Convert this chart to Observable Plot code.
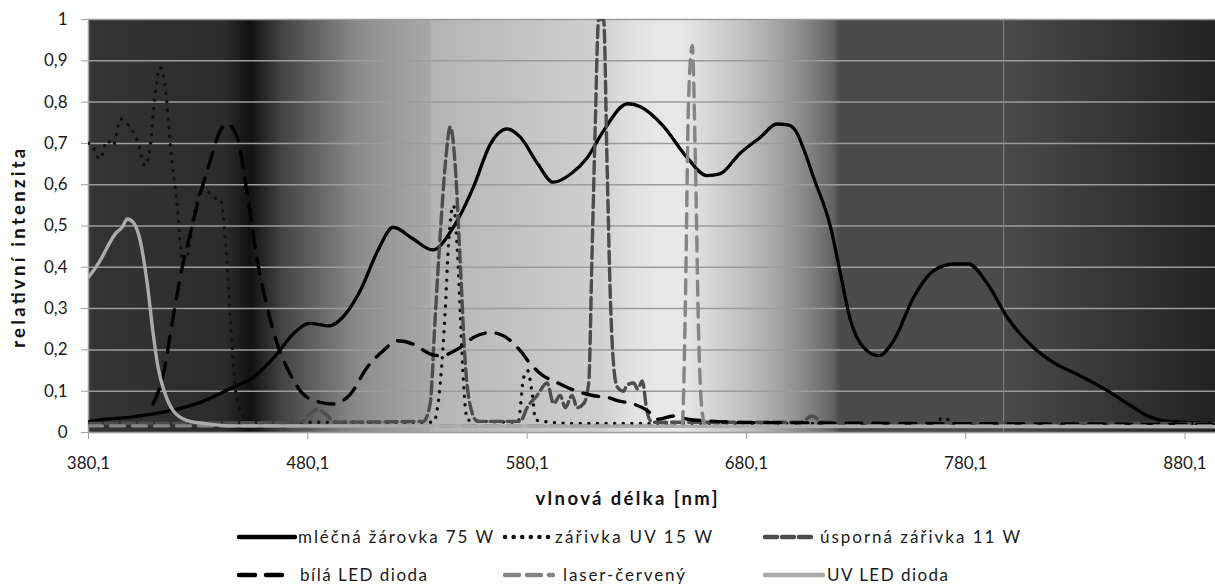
<!DOCTYPE html>
<html>
<head>
<meta charset="utf-8">
<script src="https://cdn.jsdelivr.net/npm/d3@7"></script>
<script src="https://cdn.jsdelivr.net/npm/@observablehq/plot@0.6"></script>
<style>
  html, body { margin: 0; padding: 0; background: #fff; }
  #wrap { width: 1215px; height: 585px; position: relative; font-family: Lato, "Open Sans", sans-serif; color: #1a1a1a; }
  #legend { position: relative; width: 1215px; height: 85px; font-size: 17px; }
  #legend .sw { position: absolute; }
  #legend .tx { position: absolute; white-space: nowrap; line-height: 20px; }
</style>
</head>
<body>
<div id="wrap"><div id="chart"></div><div id="legend"></div></div>
<script>
// ---------- data ----------
const wavelengthTicks = [380.1, 480.1, 580.1, 680.1, 780.1, 880.1];
const intensityTicks = [0, 0.1, 0.2, 0.3, 0.4, 0.5, 0.6, 0.7, 0.8, 0.9, 1];
const seriesNames = ["mléčná žárovka 75 W", "zářivka UV 15 W", "úsporná zářivka 11 W", "bílá LED dioda", "laser-červený", "UV LED dioda"];
const xTitle = "vlnová délka [nm]";
const yTitle = "relativní intenzita";

const mlecnaZarovka = [[380.1,0.025],[381,0.027],[400.5,0.038],[416,0.051],[431,0.073],[446,0.109],[455,0.133],[466,0.19],[473.5,0.239],[481,0.264],[490,0.258],[496,0.279],[504,0.343],[512,0.44],[519,0.497],[528,0.469],[537,0.442],[546.5,0.497],[555.6,0.594],[563.4,0.699],[571,0.735],[577,0.715],[585,0.65],[592,0.606],[600,0.626],[607.6,0.666],[615,0.731],[626,0.796],[632,0.788],[642,0.743],[653,0.666],[662,0.622],[668,0.626],[677,0.675],[686.5,0.715],[694,0.747],[699,0.745],[702.5,0.731],[707,0.675],[710.7,0.618],[718.5,0.497],[723,0.384],[727.6,0.271],[733.5,0.206],[740.4,0.186],[747.2,0.222],[756.3,0.327],[765.5,0.392],[774.6,0.408],[781.4,0.408],[790,0.36],[799,0.279],[811,0.206],[820,0.17],[832.5,0.137],[844.8,0.101],[855.3,0.065],[863,0.04],[872,0.027],[883,0.024],[894,0.022]];

const zarivkaUV = [[380.1,0.70],[381,0.699],[385.4,0.662],[388.6,0.707],[391.4,0.695],[394.6,0.759],[397.8,0.747],[402.3,0.707],[406,0.646],[408.2,0.691],[410.5,0.82],[412.8,0.884],[415.1,0.836],[417.4,0.699],[420.6,0.545],[422.8,0.424],[425.1,0.43],[427.9,0.521],[432.4,0.594],[437,0.569],[440.2,0.565],[443.4,0.4],[445.7,0.198],[447.9,0.077],[452.5,0.032],[462,0.025],[537.4,0.025],[540.5,0.12],[542.8,0.3],[544.2,0.45],[546.5,0.55],[548.3,0.44],[549.7,0.28],[551.1,0.12],[552.9,0.03],[576,0.025],[578.4,0.13],[580.3,0.15],[582.5,0.09],[584,0.03],[600,0.022],[765,0.022],[770,0.036],[775,0.022],[894,0.022]];

const usporna = [[380.1,0.022],[476.6,0.025],[481.2,0.045],[484.4,0.057],[488.1,0.045],[492.6,0.025],[532.8,0.027],[535.9,0.07],[538.2,0.28],[540.5,0.48],[542.8,0.65],[545.1,0.74],[547.4,0.64],[549.7,0.40],[552,0.16],[555.2,0.045],[557.5,0.027],[577,0.027],[580.1,0.06],[584.7,0.09],[589.2,0.12],[592.2,0.07],[595.2,0.09],[597.5,0.06],[600.6,0.09],[602.9,0.06],[605.9,0.07],[608.2,0.12],[609.7,0.43],[611.2,0.75],[612.7,1.0],[615,1.0],[616.6,0.64],[618.1,0.32],[619.6,0.16],[621.2,0.11],[624,0.1],[625.7,0.115],[628.7,0.12],[630.5,0.105],[632.6,0.125],[634.8,0.05],[637.1,0.025],[705,0.025],[710,0.04],[715,0.025],[894,0.022]];

const bilaLED = [[409.6,0.069],[414.2,0.141],[418.7,0.279],[422.8,0.4],[426.5,0.481],[431,0.577],[435.6,0.658],[440.2,0.731],[443.4,0.747],[447.9,0.715],[452.5,0.577],[457.1,0.416],[461.6,0.303],[466.2,0.214],[472.1,0.141],[478,0.093],[485.8,0.073],[491.7,0.069],[499.5,0.093],[507.2,0.158],[514.5,0.198],[520.9,0.222],[528.2,0.214],[536,0.19],[540.5,0.186],[549.7,0.206],[555.6,0.23],[563.4,0.242],[569.3,0.234],[577,0.198],[581.6,0.166],[587.5,0.137],[592.1,0.125],[598.5,0.109],[604.4,0.097],[610.4,0.089],[616.8,0.085],[621.3,0.077],[628.6,0.069],[635,0.053],[639.6,0.032],[646.9,0.04],[653.3,0.032],[662.4,0.028],[680.6,0.024],[894,0.02]];

const laserCerveny = [[380.1,0.016],[650.8,0.016],[652.3,0.32],[653.7,0.8],[655.4,0.937],[656.9,0.64],[658.3,0.24],[659.9,0.05],[661.4,0.016],[894,0.016]];

const uvLED = [[380.1,0.376],[385.4,0.416],[388.6,0.448],[392.3,0.481],[395.5,0.497],[397.8,0.517],[400.5,0.509],[403.7,0.464],[406.9,0.36],[409.6,0.239],[411.8,0.158],[415.1,0.093],[418.7,0.053],[425.1,0.029],[434.2,0.021],[446.1,0.016],[894,0.014]];

const xDomain = [380.1, 894];

// ---------- styling ----------
const seriesData = [mlecnaZarovka, zarivkaUV, usporna, bilaLED, laserCerveny, uvLED];
const seriesStyle = [
  {stroke: "#000000", strokeWidth: 3.3, strokeDasharray: null, linecap: "round"},
  {stroke: "#111111", strokeWidth: 3.4, strokeDasharray: "0.1 8.5", linecap: "round"},
  {stroke: "#4d4d4d", strokeWidth: 3.4, strokeDasharray: "12 5", linecap: "round"},
  {stroke: "#000000", strokeWidth: 3.4, strokeDasharray: "16 11", linecap: "round"},
  {stroke: "#858585", strokeWidth: 3.4, strokeDasharray: "14 8", linecap: "round"},
  {stroke: "#ababab", strokeWidth: 3.4, strokeDasharray: null, linecap: "round"}
];
// background spectrum (grayscale) stops: wavelength -> colour
const bgStops = [
  [380.1,"#383838"],[384,"#333333"],[442.5,"#2c2c2c"],[453.9,"#111111"],[458.9,"#222222"],[468.9,"#444444"],
  [485.3,"#666666"],[501.7,"#888888"],[518.2,"#9a9a9a"],[536.2,"#a8a8a8"],[536.6,"#b3b3b3"],[557.9,"#bcbcbc"],
  [591.2,"#c8c8c8"],[614,"#d0d0d0"],[627.2,"#e0e0e0"],[640.4,"#e8e8e8"],[650.5,"#e8e8e8"],[663.7,"#d6d6d6"],
  [680.1,"#c0c0c0"],[696.5,"#a0a0a0"],[709.8,"#808080"],[719.8,"#626262"],[723,"#4a4a4a"],[797.4,"#4a4a4a"],
  [894,"#222222"]
];

const fmt = d => String(d).replace(".", ",");

function spectrumBackground(index, scales, values, dimensions) {
  const g = d3.create("svg:g");
  const x0 = scales.x(xDomain[0]), x1 = scales.x(xDomain[1]);
  const grad = g.append("defs").append("linearGradient")
    .attr("id", "spectrum-bg").attr("gradientUnits", "userSpaceOnUse")
    .attr("x1", x0).attr("x2", x1).attr("y1", 0).attr("y2", 0);
  for (const [nm, c] of bgStops) {
    grad.append("stop").attr("offset", (scales.x(nm) - x0) / (x1 - x0)).attr("stop-color", c);
  }
  g.append("rect")
    .attr("x", dimensions.marginLeft).attr("y", dimensions.marginTop)
    .attr("width", dimensions.width - dimensions.marginLeft - dimensions.marginRight)
    .attr("height", dimensions.height - dimensions.marginTop - dimensions.marginBottom)
    .attr("fill", "url(#spectrum-bg)");
  return g.node();
}

const lineMarks = seriesData.map((data, i) => Plot.line(data, {
  x: d => d[0], y: d => d[1], curve: "monotone-x", clip: true,
  stroke: seriesStyle[i].stroke, strokeWidth: seriesStyle[i].strokeWidth,
  strokeDasharray: seriesStyle[i].strokeDasharray, strokeLinecap: seriesStyle[i].linecap,
  strokeLinejoin: "round"
}));

const chart = Plot.plot({
  width: 1215, height: 500,
  marginLeft: 88, marginRight: 0, marginTop: 19, marginBottom: 68,
  style: {fontFamily: "Lato, 'Open Sans', sans-serif", fontSize: "17px", color: "#1a1a1a", background: "#fff", overflow: "visible"},
  x: {domain: xDomain},
  y: {domain: [0, 1]},
  marks: [
    spectrumBackground,
    Plot.ruleY(intensityTicks, {stroke: "#9c9c9c", strokeWidth: 1.5}),
    Plot.ruleX([797.4], {stroke: "#858585", strokeWidth: 1}),
    Plot.ruleX([xDomain[0]], {stroke: "#a0a0a0", strokeWidth: 1.5}),
    Plot.axisX({ticks: wavelengthTicks, tickFormat: fmt, tickSize: 7, tickPadding: 17, stroke: "#a0a0a0", fill: "#1a1a1a", label: null, fontSize: 17}),
    Plot.axisY({ticks: intensityTicks, tickFormat: fmt, tickSize: 7, tickPadding: 14, stroke: "#a0a0a0", fill: "#1a1a1a", label: null, fontSize: 17}),
    Plot.text([yTitle], {x: [xDomain[0]], y: [0.446], text: d => d, dx: -69, rotate: -90, fontWeight: "bold", fontSize: 18.5, fill: "#111"}),
    Plot.text([xTitle], {x: [625.4], frameAnchor: "bottom", text: d => d, dy: 72, fontWeight: "bold", fontSize: 18.5, fill: "#111"}),
    ...lineMarks
  ]
});
document.getElementById("chart").appendChild(chart);

// stretch the axis titles to the width they take in the reference
const titleLengths = new Map([[xTitle, 182], [yTitle, 199]]);
d3.select(chart).selectAll("text").each(function() {
  const L = titleLengths.get(this.textContent);
  if (L) d3.select(this).attr("textLength", L).attr("lengthAdjust", "spacing");
});

// ---------- legend (HTML below the SVG) ----------
const legendLayout = [
  {sx: 237, sw: 60, tx: 298, tw: 195, top: 27},
  {sx: 503, sw: 48, tx: 555, tw: 157, top: 27},
  {sx: 763, sw: 54, tx: 820, tw: 200, top: 27},
  {sx: 237, sw: 54, tx: 300, tw: 127, top: 65},
  {sx: 503, sw: 52, tx: 563, tw: 122, top: 65},
  {sx: 763, sw: 62, tx: 827, tw: 121, top: 65}
];
const legend = d3.select("#legend");
seriesNames.forEach((name, i) => {
  const L = legendLayout[i], s = seriesStyle[i];
  const sw = legend.append("svg").attr("class", "sw")
    .style("left", L.sx + "px").style("top", (L.top) + "px")
    .attr("width", L.sw).attr("height", 20);
  sw.append("line").attr("x1", 2).attr("x2", L.sw - 2).attr("y1", 10).attr("y2", 10)
    .attr("stroke", s.stroke).attr("stroke-width", 4.5)
    .attr("stroke-dasharray", s.strokeDasharray).attr("stroke-linecap", s.linecap);
  const t = legend.append("div").attr("class", "tx")
    .style("left", L.tx + "px").style("top", L.top + "px").text(name);
  const w = t.node().getBoundingClientRect().width;
  const n = [...name].length;
  t.style("letter-spacing", ((L.tw - w) / (n - 1)) + "px");
});
</script>
</body>
</html>
